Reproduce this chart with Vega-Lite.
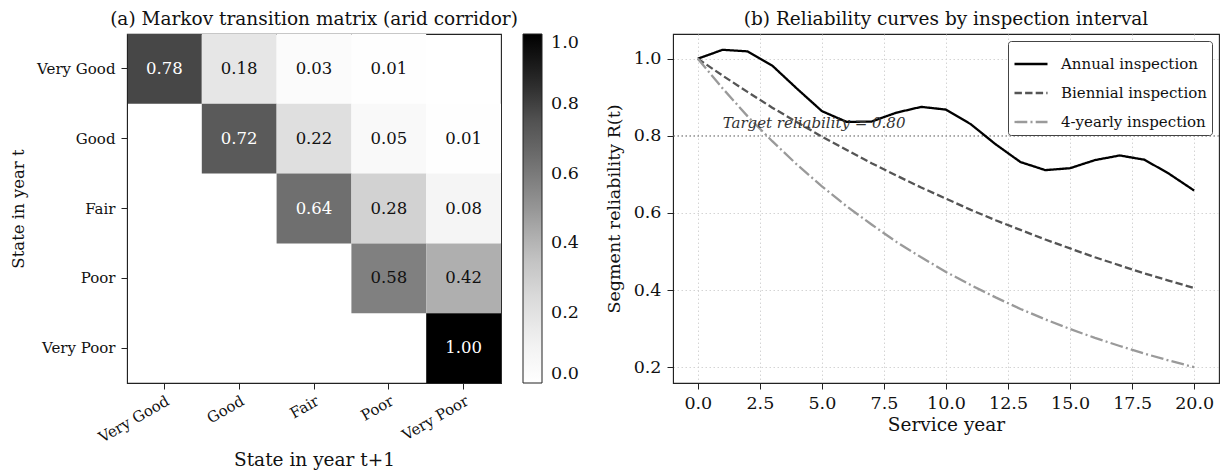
{
  "$schema": "https://vega.github.io/schema/vega-lite/v6.json",
  "background": "white",
  "padding": {"left": 10, "top": 8, "right": 4, "bottom": 2},
  "config": {
    "font": "DejaVu Serif",
    "view": {"stroke": "#222", "strokeWidth": 1.1},
    "axis": {"domainColor": "#222", "tickColor": "#222", "labelColor": "#111", "titleColor": "#111", "titleFontWeight": "normal", "tickSize": 6, "labelPadding": 5, "labelFont": "DejaVu Serif", "titleFont": "DejaVu Serif"},
    "title": {"font": "DejaVu Serif", "fontSize": 18.5, "fontWeight": "normal", "color": "#111", "offset": 6},
    "legend": {"labelFont": "DejaVu Serif"}
  },
  "hconcat": [
    {
      "width": 374,
      "height": 349,
      "title": "(a) Markov transition matrix (arid corridor)",
      "data": {"values": [
        {"from": "Very Good", "to": "Very Good", "p": 0.78},
        {"from": "Very Good", "to": "Good", "p": 0.18},
        {"from": "Very Good", "to": "Fair", "p": 0.03},
        {"from": "Very Good", "to": "Poor", "p": 0.01},
        {"from": "Good", "to": "Good", "p": 0.72},
        {"from": "Good", "to": "Fair", "p": 0.22},
        {"from": "Good", "to": "Poor", "p": 0.05},
        {"from": "Good", "to": "Very Poor", "p": 0.01},
        {"from": "Fair", "to": "Fair", "p": 0.64},
        {"from": "Fair", "to": "Poor", "p": 0.28},
        {"from": "Fair", "to": "Very Poor", "p": 0.08},
        {"from": "Poor", "to": "Poor", "p": 0.58},
        {"from": "Poor", "to": "Very Poor", "p": 0.42},
        {"from": "Very Poor", "to": "Very Poor", "p": 1.0}
      ]},
      "encoding": {
        "x": {"field": "to", "type": "nominal", "sort": ["Very Good", "Good", "Fair", "Poor", "Very Poor"],
              "scale": {"domain": ["Very Good", "Good", "Fair", "Poor", "Very Poor"], "paddingInner": 0, "paddingOuter": 0},
              "axis": {"title": "State in year t+1", "labelAngle": -30, "labelAlign": "right", "labelBaseline": "top", "labelFontSize": 15, "titleFontSize": 18.5, "titlePadding": 5, "grid": false, "labelPadding": 4}},
        "y": {"field": "from", "type": "nominal", "sort": ["Very Good", "Good", "Fair", "Poor", "Very Poor"],
              "scale": {"domain": ["Very Good", "Good", "Fair", "Poor", "Very Poor"], "paddingInner": 0, "paddingOuter": 0},
              "axis": {"title": "State in year t", "labelFontSize": 15, "titleFontSize": 16.5, "titlePadding": 10, "grid": false, "labelPadding": 6}}
      },
      "layer": [
        {
          "mark": {"type": "rect"},
          "encoding": {
            "color": {"field": "p", "type": "quantitative",
                      "scale": {"type": "linear", "domain": [0, 0.125, 0.25, 0.375, 0.5, 0.625, 0.75, 0.875, 1], "range": ["#ffffff", "#f0f0f0", "#d9d9d9", "#bdbdbd", "#969696", "#737373", "#525252", "#252525", "#000000"], "interpolate": "rgb"},
                      "legend": {"title": null, "direction": "vertical", "gradientLength": 349, "gradientThickness": 19, "offset": 22, "values": [0, 0.2, 0.4, 0.6, 0.8, 1.0], "format": ".1f", "labelFontSize": 17.5, "labelColor": "#111", "gradientStrokeColor": "#222", "gradientStrokeWidth": 1, "labelOffset": 9, "padding": 0}}
          }
        },
        {
          "mark": {"type": "text", "fontSize": 16.5, "font": "DejaVu Serif"},
          "encoding": {
            "text": {"field": "p", "type": "quantitative", "format": ".2f"},
            "color": {"condition": {"test": "datum.p > 0.6", "value": "#ffffff"}, "value": "#111111"}
          }
        }
      ]
    },
    {
      "width": 546,
      "height": 349,
      "title": "(b) Reliability curves by inspection interval",
      "layer": [
        {
          "data": {"values": [{"target": 0.8}]},
          "mark": {"type": "rule", "color": "#888888", "strokeDash": [1.5, 2.5], "strokeWidth": 1.3},
          "encoding": {"y": {"field": "target", "type": "quantitative"}}
        },
        {
          "data": {"values": [
            {"year": 0, "series": "Annual inspection", "R": 1.0},
            {"year": 1, "series": "Annual inspection", "R": 1.023},
            {"year": 2, "series": "Annual inspection", "R": 1.019},
            {"year": 3, "series": "Annual inspection", "R": 0.982},
            {"year": 4, "series": "Annual inspection", "R": 0.922},
            {"year": 5, "series": "Annual inspection", "R": 0.864},
            {"year": 6, "series": "Annual inspection", "R": 0.836},
            {"year": 7, "series": "Annual inspection", "R": 0.837},
            {"year": 8, "series": "Annual inspection", "R": 0.860},
            {"year": 9, "series": "Annual inspection", "R": 0.875},
            {"year": 10, "series": "Annual inspection", "R": 0.868},
            {"year": 11, "series": "Annual inspection", "R": 0.830},
            {"year": 12, "series": "Annual inspection", "R": 0.778},
            {"year": 13, "series": "Annual inspection", "R": 0.732},
            {"year": 14, "series": "Annual inspection", "R": 0.711},
            {"year": 15, "series": "Annual inspection", "R": 0.716},
            {"year": 16, "series": "Annual inspection", "R": 0.737},
            {"year": 17, "series": "Annual inspection", "R": 0.749},
            {"year": 18, "series": "Annual inspection", "R": 0.738},
            {"year": 19, "series": "Annual inspection", "R": 0.701},
            {"year": 20, "series": "Annual inspection", "R": 0.658},
            {"year": 0, "series": "Biennial inspection", "R": 1.0},
            {"year": 1, "series": "Biennial inspection", "R": 0.956},
            {"year": 2, "series": "Biennial inspection", "R": 0.914},
            {"year": 3, "series": "Biennial inspection", "R": 0.873},
            {"year": 4, "series": "Biennial inspection", "R": 0.835},
            {"year": 5, "series": "Biennial inspection", "R": 0.798},
            {"year": 6, "series": "Biennial inspection", "R": 0.763},
            {"year": 7, "series": "Biennial inspection", "R": 0.729},
            {"year": 8, "series": "Biennial inspection", "R": 0.697},
            {"year": 9, "series": "Biennial inspection", "R": 0.666},
            {"year": 10, "series": "Biennial inspection", "R": 0.637},
            {"year": 11, "series": "Biennial inspection", "R": 0.608},
            {"year": 12, "series": "Biennial inspection", "R": 0.581},
            {"year": 13, "series": "Biennial inspection", "R": 0.556},
            {"year": 14, "series": "Biennial inspection", "R": 0.531},
            {"year": 15, "series": "Biennial inspection", "R": 0.508},
            {"year": 16, "series": "Biennial inspection", "R": 0.485},
            {"year": 17, "series": "Biennial inspection", "R": 0.464},
            {"year": 18, "series": "Biennial inspection", "R": 0.443},
            {"year": 19, "series": "Biennial inspection", "R": 0.424},
            {"year": 20, "series": "Biennial inspection", "R": 0.405},
            {"year": 0, "series": "4-yearly inspection", "R": 1.0},
            {"year": 1, "series": "4-yearly inspection", "R": 0.923},
            {"year": 2, "series": "4-yearly inspection", "R": 0.851},
            {"year": 3, "series": "4-yearly inspection", "R": 0.786},
            {"year": 4, "series": "4-yearly inspection", "R": 0.725},
            {"year": 5, "series": "4-yearly inspection", "R": 0.669},
            {"year": 6, "series": "4-yearly inspection", "R": 0.617},
            {"year": 7, "series": "4-yearly inspection", "R": 0.570},
            {"year": 8, "series": "4-yearly inspection", "R": 0.525},
            {"year": 9, "series": "4-yearly inspection", "R": 0.485},
            {"year": 10, "series": "4-yearly inspection", "R": 0.447},
            {"year": 11, "series": "4-yearly inspection", "R": 0.413},
            {"year": 12, "series": "4-yearly inspection", "R": 0.381},
            {"year": 13, "series": "4-yearly inspection", "R": 0.351},
            {"year": 14, "series": "4-yearly inspection", "R": 0.324},
            {"year": 15, "series": "4-yearly inspection", "R": 0.299},
            {"year": 16, "series": "4-yearly inspection", "R": 0.276},
            {"year": 17, "series": "4-yearly inspection", "R": 0.255},
            {"year": 18, "series": "4-yearly inspection", "R": 0.235},
            {"year": 19, "series": "4-yearly inspection", "R": 0.217},
            {"year": 20, "series": "4-yearly inspection", "R": 0.200}
          ]},
          "mark": {"type": "line", "strokeWidth": 2.3},
          "encoding": {
            "x": {"field": "year", "type": "quantitative",
                  "scale": {"domain": [-1, 21], "nice": false, "zero": false},
                  "axis": {"title": "Service year", "values": [0, 2.5, 5, 7.5, 10, 12.5, 15, 17.5, 20], "format": ".1f", "labelFontSize": 17.5, "titleFontSize": 18.5, "grid": true, "gridColor": "#cfcfcf", "gridDash": [1.5, 2.5], "gridWidth": 0.9, "labelPadding": 5, "titlePadding": 4}},
            "y": {"field": "R", "type": "quantitative",
                  "scale": {"domain": [0.159, 1.064], "nice": false, "zero": false},
                  "axis": {"title": "Segment reliability R(t)", "values": [0.2, 0.4, 0.6, 0.8, 1.0], "format": ".1f", "labelFontSize": 17.5, "titleFontSize": 17.5, "grid": true, "gridColor": "#cfcfcf", "gridDash": [1.5, 2.5], "gridWidth": 0.9, "labelPadding": 6, "titlePadding": 10}},
            "color": {"field": "series", "type": "nominal",
                      "scale": {"domain": ["Annual inspection", "Biennial inspection", "4-yearly inspection"], "range": ["#000000", "#555555", "#9a9a9a"]},
                      "legend": {"title": null, "orient": "top-right", "offset": 7, "symbolType": "stroke", "symbolSize": 1089, "symbolStrokeWidth": 2.3, "labelFontSize": 15, "labelColor": "#111", "strokeColor": "#444", "fillColor": "white", "padding": 5, "cornerRadius": 3, "rowPadding": 3, "labelOffset": 12}},
            "strokeDash": {"field": "series", "type": "nominal",
                      "scale": {"domain": ["Annual inspection", "Biennial inspection", "4-yearly inspection"], "range": [[1, 0], [7.4, 3.2], [12.8, 3.2, 2, 3.2]]},
                      "legend": {"title": null, "orient": "top-right", "offset": 7, "symbolType": "stroke", "symbolSize": 1089, "symbolStrokeWidth": 2.3, "labelFontSize": 15, "labelColor": "#111", "strokeColor": "#444", "fillColor": "white", "padding": 5, "cornerRadius": 3, "rowPadding": 3, "labelOffset": 12}}
          }
        },
        {
          "data": {"values": [{"x": 1, "y": 0.82, "label": "Target reliability = 0.80"}]},
          "mark": {"type": "text", "align": "left", "baseline": "alphabetic", "fontStyle": "italic", "fontSize": 15, "color": "#333333", "font": "DejaVu Serif"},
          "encoding": {
            "x": {"field": "x", "type": "quantitative"},
            "y": {"field": "y", "type": "quantitative"},
            "text": {"field": "label"}
          }
        }
      ]
    }
  ],
  "resolve": {"scale": {"color": "independent", "strokeDash": "independent"}, "legend": {"color": "independent", "strokeDash": "independent"}},
  "spacing": 24
}
